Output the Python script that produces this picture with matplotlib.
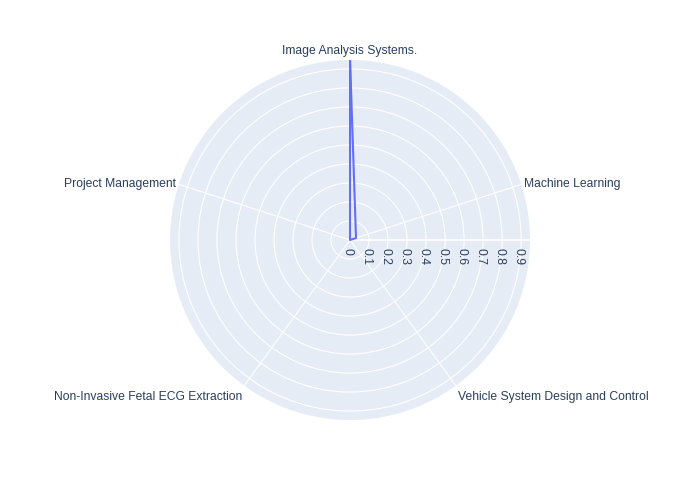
import numpy as np
import matplotlib.pyplot as plt

plt.rcParams['font.family'] = ['Liberation Sans', 'DejaVu Sans']

# Datos
categories = ["Image Analysis Systems.", "Machine Learning",
              "Vehicle System Design and Control",
              "Non-Invasive Fetal ECG Extraction", "Project Management"]
values = [0.95, 0.033, 0.0, 0.0, 0.0]
r_ticks = [0, 0.1, 0.2, 0.3, 0.4, 0.5, 0.6, 0.7, 0.8, 0.9]
r_max = 0.947

text_color = '#2a3f5f'
bg_color = '#E5ECF6'
line_color = '#636efa'
fs = 8.7

fig = plt.figure(figsize=(7, 5), dpi=100)
ax = fig.add_axes([0.2429, 0.16, 0.5143, 0.72], projection='polar')
ax.set_theta_zero_location('N')
ax.set_theta_direction(-1)
ax.set_facecolor(bg_color)
ax.spines['polar'].set_visible(False)

angles = np.linspace(0, 2 * np.pi, len(categories), endpoint=False)

# rejilla
ax.set_ylim(0, r_max)
ax.set_yticks(r_ticks[1:])
ax.set_yticklabels([])
ax.set_xticks(angles)
ax.set_xticklabels([])
ax.tick_params(length=0)
ax.grid(True, color='white', linewidth=0.8)
ax.axvline(np.pi / 2, color='white', linewidth=1.2)

# serie
theta = np.append(angles, angles[0])
r = np.append(values, values[0])
ax.plot(theta, r, color=line_color, linewidth=1.5)

# etiquetas angulares
for ang, lab in zip(angles, categories):
    s = np.sin(ang)
    c = np.cos(ang)
    if abs(s) < 0.01:
        ha, va, off = 'center', 'bottom', (0, 3)
    elif c > 0:
        ha, va, off = ('left' if s > 0 else 'right'), 'center', (3 * np.sign(s), 0)
    else:
        ha, va, off = ('left' if s > 0 else 'right'), 'top', (2 * np.sign(s), -5)
    ax.annotate(lab, xy=(ang, r_max), xytext=off, textcoords='offset pixels',
                ha=ha, va=va, color=text_color, fontsize=fs,
                annotation_clip=False)

# etiquetas radiales
for t in r_ticks:
    ax.annotate(f'{t:g}', xy=(np.pi / 2, t), xytext=(-3, -8),
                textcoords='offset pixels', ha='center', va='top',
                rotation=-90, color=text_color, fontsize=fs,
                annotation_clip=False)

fig.savefig('out.png', dpi=100, facecolor='white')
